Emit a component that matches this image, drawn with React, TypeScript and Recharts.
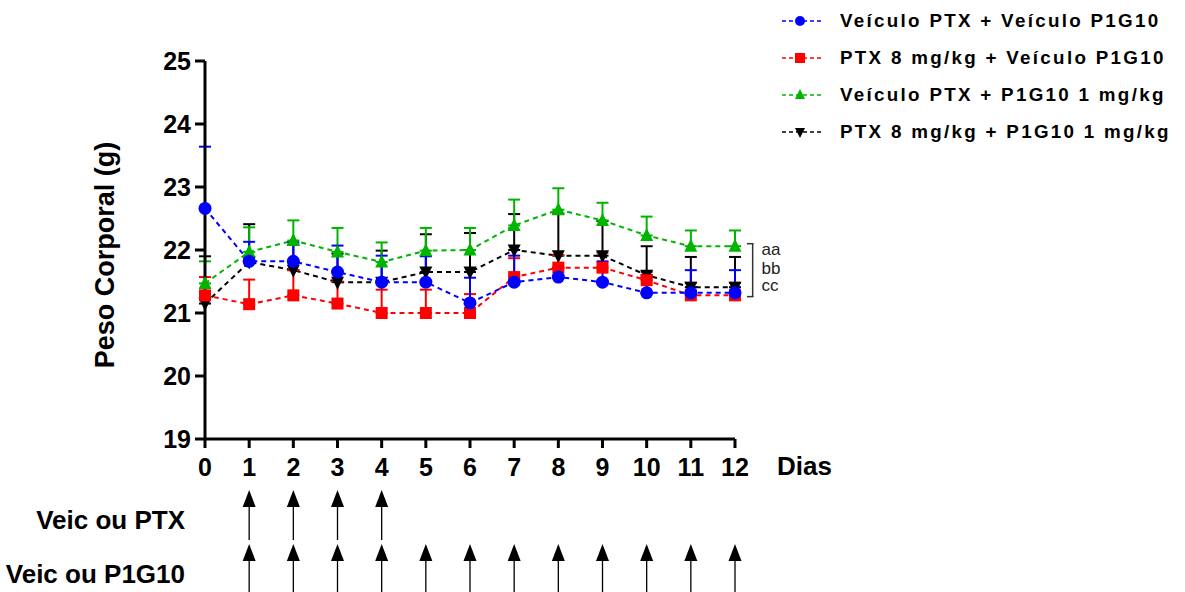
import React from "react";
import {
  LineChart,
  Line,
  XAxis,
  YAxis,
  ErrorBar,
  Legend,
  ReferenceLine,
  ReferenceDot,
  ScatterChart,
  Scatter,
} from "recharts";

const FONT = '"Liberation Sans", Arial, sans-serif';

// days of treatment and axis ticks
const days = [0, 1, 2, 3, 4, 5, 6, 7, 8, 9, 10, 11, 12];
const weightTicks = [19, 20, 21, 22, 23, 24, 25];

// body weight (g), mean and upper error per day
const vehVehMean = [22.66, 21.82, 21.82, 21.65, 21.49, 21.49, 21.16, 21.49, 21.57, 21.49, 21.32, 21.32, 21.32];
const vehVehErr = [0.98, 0.31, 0.3, 0.42, 0.42, 0.41, 0.4, 0.42, 0.15, 0.33, 0.25, 0.36, 0.36];

const ptxVehMean = [21.28, 21.14, 21.28, 21.15, 21.0, 21.0, 21.0, 21.57, 21.72, 21.72, 21.52, 21.28, 21.28];
const ptxVehErr = [0.29, 0.39, 0.4, 0.35, 0.37, 0.37, 0.3, 0.3, 0.2, 0.24, 0.13, 0.2, 0.2];

const vehP1Mean = [21.47, 21.97, 22.15, 21.97, 21.81, 21.99, 22.0, 22.39, 22.64, 22.47, 22.23, 22.06, 22.06];
const vehP1Err = [0.35, 0.39, 0.32, 0.38, 0.31, 0.36, 0.35, 0.41, 0.34, 0.28, 0.3, 0.25, 0.25];

const ptxP1Mean = [21.15, 21.81, 21.68, 21.49, 21.49, 21.65, 21.65, 22.0, 21.91, 21.91, 21.6, 21.41, 21.41];
const ptxP1Err = [0.75, 0.6, 0.4, 0.45, 0.5, 0.6, 0.62, 0.57, 0.67, 0.55, 0.46, 0.48, 0.48];

// dosing schedule
const ptxDoseDays = [1, 2, 3, 4];
const p1g10DoseDays = [1, 2, 3, 4, 5, 6, 7, 8, 9, 10, 11, 12];
const doseRowLabels = ["Veic ou P1G10", "Veic ou PTX"];

// significance marks next to the last day
const sigLabels = ["aa", "bb", "cc"];
const sigLabelY = [22.01, 21.71, 21.44];
const sigBracketY = [21.26, 22.1];

type Shape = "circle" | "square" | "up" | "down";

const series = [
  { key: "vv", name: "Veículo PTX + Veículo P1G10", color: "#0000ff", shape: "circle" as Shape, mean: vehVehMean, err: vehVehErr },
  { key: "pv", name: "PTX 8 mg/kg + Veículo P1G10", color: "#ff0000", shape: "square" as Shape, mean: ptxVehMean, err: ptxVehErr },
  { key: "vp", name: "Veículo PTX + P1G10 1 mg/kg", color: "#00b400", shape: "up" as Shape, mean: vehP1Mean, err: vehP1Err },
  { key: "pp", name: "PTX 8 mg/kg + P1G10 1 mg/kg", color: "#000000", shape: "down" as Shape, mean: ptxP1Mean, err: ptxP1Err },
];

// drawing order: black, red, green, blue on top
const drawOrder = [3, 1, 2, 0];

const data = days.map((d, i) => {
  const row: any = { day: d };
  series.forEach((s) => {
    row[s.key] = s.mean[i];
    row[s.key + "Err"] = [0, s.err[i]];
  });
  return row;
});

const ptxRows = ptxDoseDays.map((d) => ({ day: d, row: 1 }));
const p1g10Rows = p1g10DoseDays.map((d) => ({ day: d, row: 0 }));

const Marker = ({ shape, cx, cy, size, color }: { shape: Shape; cx: number; cy: number; size: number; color: string }) => {
  const h = size / 2;
  if (shape === "circle") return <circle cx={cx} cy={cy} r={h} fill={color} />;
  if (shape === "square") return <rect x={cx - h} y={cy - h} width={size} height={size} fill={color} />;
  if (shape === "up")
    return <path d={`M${cx},${cy - h - 1}L${cx + h},${cy + h - 1}L${cx - h},${cy + h - 1}Z`} fill={color} />;
  return <path d={`M${cx},${cy + h + 1}L${cx + h},${cy - h + 1}L${cx - h},${cy - h + 1}Z`} fill={color} />;
};

const makeDot = (shape: Shape, color: string, size: number) => (p: any) => (
  <g key={`${shape}-${p.index}`}>
    <Marker shape={shape} cx={p.cx} cy={p.cy} size={size} color={color} />
  </g>
);

const renderLegend = () => (
  <div style={{ fontFamily: FONT, fontWeight: 700, fontSize: 18.8, letterSpacing: 2.3, color: "#000" }}>
    {series.map((s) => (
      <div key={s.key} style={{ display: "flex", alignItems: "center", height: 37 }}>
        <svg width={40} height={14}>
          <line x1={0} y1={7} x2={40} y2={7} stroke={s.color} strokeWidth={1.5} strokeDasharray="4 3" />
          <Marker shape={s.shape} cx={18} cy={7} size={10} color={s.color} />
        </svg>
        <span style={{ marginLeft: 18, whiteSpace: "nowrap" }}>{s.name}</span>
      </div>
    ))}
  </div>
);

const Arrow = (p: any) => (
  <g>
    <line x1={p.cx} y1={p.cy + 15} x2={p.cx} y2={p.cy + 50} stroke="#000" strokeWidth={1.3} />
    <path d={`M${p.cx},${p.cy}L${p.cx + 6.5},${p.cy + 17}L${p.cx - 6.5},${p.cy + 17}Z`} fill="#000" />
  </g>
);

const tickStyle = { fill: "#000", fontSize: 25, fontWeight: 700, fontFamily: FONT };
const axisStroke = { stroke: "#000", strokeWidth: 3 };

export default function App() {
  return (
    <div style={{ position: "absolute", left: 0, top: 0, width: 1185, height: 592 }}>
      <div style={{ position: "absolute", left: 0, top: 0 }}>
        <LineChart width={1185} height={592} data={data} margin={{ top: 61, right: 450, bottom: 113, left: 0 }}>
          <XAxis
            dataKey="day"
            type="number"
            domain={[0, 12]}
            ticks={days}
            interval={0}
            height={40}
            axisLine={axisStroke}
            tickLine={axisStroke}
            tickSize={9}
            tickMargin={10}
            tick={tickStyle}
            label={{ value: "Dias", position: "right", offset: 42, dy: 7, fill: "#000", fontSize: 26, fontWeight: 700, fontFamily: FONT }}
          />
          <YAxis
            type="number"
            domain={[19, 25]}
            ticks={weightTicks}
            interval={0}
            width={205}
            axisLine={axisStroke}
            tickLine={axisStroke}
            tickSize={10}
            tickMargin={4}
            tick={tickStyle}
            label={{ value: "Peso Corporal (g)", angle: -90, position: "center", dx: 2, dy: 5, fill: "#000", fontSize: 27, fontWeight: 700, fontFamily: FONT }}
          />
          <Legend
            layout="vertical"
            align="center"
            verticalAlign="middle"
            content={renderLegend}
            wrapperStyle={{ top: 2, left: 782, width: 400 }}
          />
          {drawOrder.map((idx) => {
            const s = series[idx];
            return (
              <Line
                key={s.key}
                dataKey={s.key}
                name={s.name}
                type="linear"
                stroke={s.color}
                strokeWidth={2}
                strokeDasharray="5 4"
                dot={makeDot(s.shape, s.color, s.shape === "square" ? 12 : 13)}
                activeDot={false}
                isAnimationActive={false}
              >
                <ErrorBar dataKey={s.key + "Err"} direction="y" width={6} stroke={s.color} strokeWidth={2} isAnimationActive={false} />
              </Line>
            );
          })}
          <ReferenceLine
            segment={[{ x: 12.4, y: sigBracketY[0] }, { x: 12.4, y: sigBracketY[1] }]}
            stroke="#333"
            strokeWidth={1.5}
            ifOverflow="visible"
          />
          {sigBracketY.map((y) => (
            <ReferenceLine
              key={y}
              segment={[{ x: 12.27, y }, { x: 12.42, y }]}
              stroke="#333"
              strokeWidth={1.5}
              ifOverflow="visible"
            />
          ))}
          {sigLabels.map((t, i) => (
            <ReferenceDot
              key={t}
              x={12.6}
              y={sigLabelY[i]}
              r={0}
              fill="none"
              stroke="none"
              ifOverflow="visible"
              label={{ value: t, position: "right", offset: 0, fill: "#222", fontSize: 17, fontFamily: FONT }}
            />
          ))}
        </LineChart>
      </div>
      <div style={{ position: "absolute", left: 0, top: 470 }}>
        <ScatterChart width={1185} height={122} margin={{ top: 20, right: 450, bottom: 48, left: 0 }}>
          <XAxis dataKey="day" type="number" domain={[0, 12]} hide height={0} />
          <YAxis
            dataKey="row"
            type="number"
            domain={[0, 1]}
            ticks={[0, 1]}
            width={205}
            axisLine={false}
            tickLine={false}
            tickSize={0}
            tickMargin={20}
            tickFormatter={(v: number) => doseRowLabels[v]}
            tick={{ ...tickStyle, fontSize: 26, dy: 30 }}
          />
          <Scatter data={ptxRows} shape={Arrow} isAnimationActive={false} />
          <Scatter data={p1g10Rows} shape={Arrow} isAnimationActive={false} />
        </ScatterChart>
      </div>
    </div>
  );
}
